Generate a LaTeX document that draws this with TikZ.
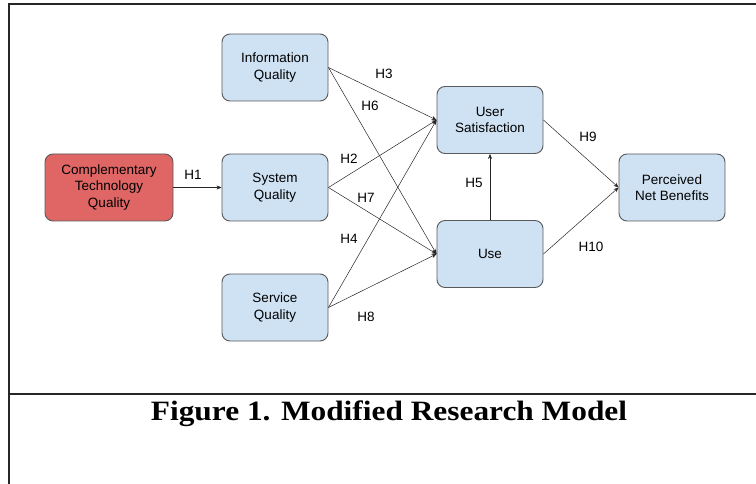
\documentclass[tikz,border=0pt]{standalone}
\usepackage{fontspec}
\setmainfont{Liberation Sans}
\newfontfamily\captionfont{Liberation Serif}
\usetikzlibrary{arrows.meta}
\definecolor{boxblue}{HTML}{CFE2F3}
\definecolor{boxred}{HTML}{E06666}
\definecolor{boxline}{HTML}{595959}
\tikzset{
  construct/.style={draw=boxline,line width=0.9pt,rounded corners=8pt,fill=boxblue,
    minimum width=106pt,minimum height=67pt,inner sep=0pt,align=center,
    font=\fontsize{13.5}{16.5}\selectfont},
  hyp/.style={-{Stealth[length=5pt,width=4pt]},line width=0.5pt,black!85},
  hlabel/.style={font=\fontsize{13.5}{15}\selectfont,inner sep=0pt}
}
\begin{document}
\begin{tikzpicture}[x=1pt,y=-1pt]
      \useasboundingbox (0,0) rectangle (756,484);
      % frame
      \draw[line width=1.2pt,black!85] (756,4) -- (9,4) -- (9,484);
      \draw[line width=1.2pt,black!85] (9,394) -- (756,394);
      % constructs
      \node[construct,fill=boxred,minimum width=128pt] (ctq) at (109,187.5) {Complementary\\Technology\\Quality};
      \node[construct] (iq) at (275,67.5) {Information\\Quality};
      \node[construct] (sq) at (275,187.5) {System\\Quality};
      \node[construct] (svq) at (275,307.5) {Service\\Quality};
      \node[construct] (us) at (490,120) {User\\Satisfaction};
      \node[construct] (use) at (490,254) {Use};
      \node[construct] (pnb) at (672,187.5) {Perceived\\Net Benefits};
      % hypotheses
      \draw[hyp] (ctq.east) -- (sq.west);
      \draw[hyp] (iq.east) -- (us.west);
      \draw[hyp] (iq.east) -- (use.west);
      \draw[hyp] (sq.east) -- (us.west);
      \draw[hyp] (sq.east) -- (use.west);
      \draw[hyp] (svq.east) -- (us.west);
      \draw[hyp] (svq.east) -- (use.west);
      \draw[hyp] (use.north) -- (us.south);
      \draw[hyp] (us.east) -- (pnb.west);
      \draw[hyp] (use.east) -- (pnb.west);
      \node[hlabel] (h1) at (193,175) {H1};
      \node[hlabel] (h2) at (349,159) {H2};
      \node[hlabel] (h3) at (384,74) {H3};
      \node[hlabel] (h4) at (349,239) {H4};
      \node[hlabel] (h5) at (474,183) {H5};
      \node[hlabel] (h6) at (370,106) {H6};
      \node[hlabel] (h7) at (366,198) {H7};
      \node[hlabel] (h8) at (366,317) {H8};
      \node[hlabel] (h9) at (588,137) {H9};
      \node[hlabel] (h10) at (591,247) {H10};
      % caption
      \node[inner sep=0pt,anchor=base] (cap) at (389,420) {\scalebox{1.12}[1]{\captionfont\bfseries\fontsize{28}{30}\selectfont Figure 1. Modified Research Model}};
    \end{tikzpicture}
\end{document}
